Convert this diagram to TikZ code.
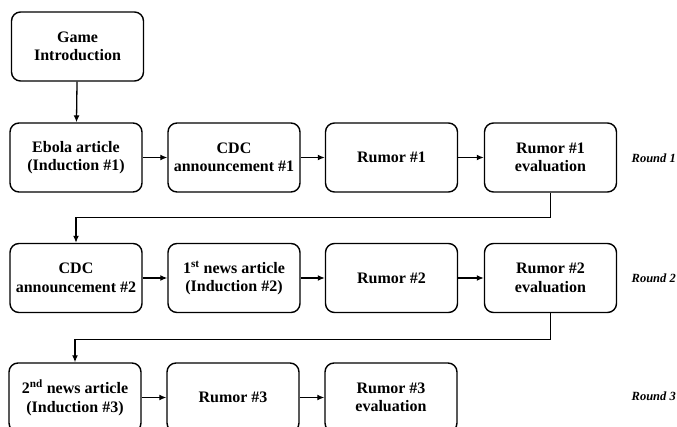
\documentclass[tikz,border=0pt]{standalone}
\usepackage{fontspec}
\setmainfont{Liberation Serif}
\usetikzlibrary{arrows.meta}
\begin{document}
\begin{tikzpicture}[x=1pt,y=-1pt,
  box/.style={draw, line width=1.4pt, rounded corners=9pt, minimum width=132pt, minimum height=69pt,
    inner sep=0pt, align=center, font=\fontsize{16}{18.5}\selectfont\bfseries},
  arr/.style={line width=1.3pt, -{Latex[length=7pt,width=6pt]}},
  lbl/.style={font=\fontsize{12.5}{15}\selectfont\bfseries\itshape, anchor=east, inner sep=0pt}]
\useasboundingbox (0,0) rectangle (677,427);
\node[box] (g) at (77.5,46.5) {Game\\Introduction};
\node[box] (a1) at (76,157.5) {Ebola article\\(Induction \#1)};
\node[box] (b1) at (234,157.5) {CDC\\announcement \#1};
\node[box] (c1) at (391.5,157.5) {Rumor \#1};
\node[box] (d1) at (550.5,157.5) {Rumor \#1\\evaluation};
\node[lbl] (r1) at (676,158) {Round 1};
\node[box] (a2) at (76,278) {CDC\\announcement \#2};
\node[box] (b2) at (234,278) {1\textsuperscript{st} news article\\(Induction \#2)};
\node[box] (c2) at (391.5,278) {Rumor \#2};
\node[box] (d2) at (550.5,278) {Rumor \#2\\evaluation};
\node[lbl] (r2) at (676,278) {Round 2};
\node[box] (a3) at (75,397.5) {2\textsuperscript{nd} news article\\(Induction \#3)};
\node[box] (b3) at (233,397.5) {Rumor \#3};
\node[box] (c3) at (391,397.5) {Rumor \#3\\evaluation};
\node[lbl] (r3) at (676,396) {Round 3};
\draw[arr] (g) -- (a1);
\draw[arr] (a1) -- (b1);
\draw[arr] (b1) -- (c1);
\draw[arr] (c1) -- (d1);
\draw[arr] (d1.south) -- ++(0,25) -| (a2.north);
\draw[arr] (a2) -- (b2);
\draw[arr] (b2) -- (c2);
\draw[arr] (c2) -- (d2);
\draw[arr] (d2.south) -- ++(0,26) -| (a3.north);
\draw[arr] (a3) -- (b3);
\draw[arr] (b3) -- (c3);
\end{tikzpicture}
\end{document}
